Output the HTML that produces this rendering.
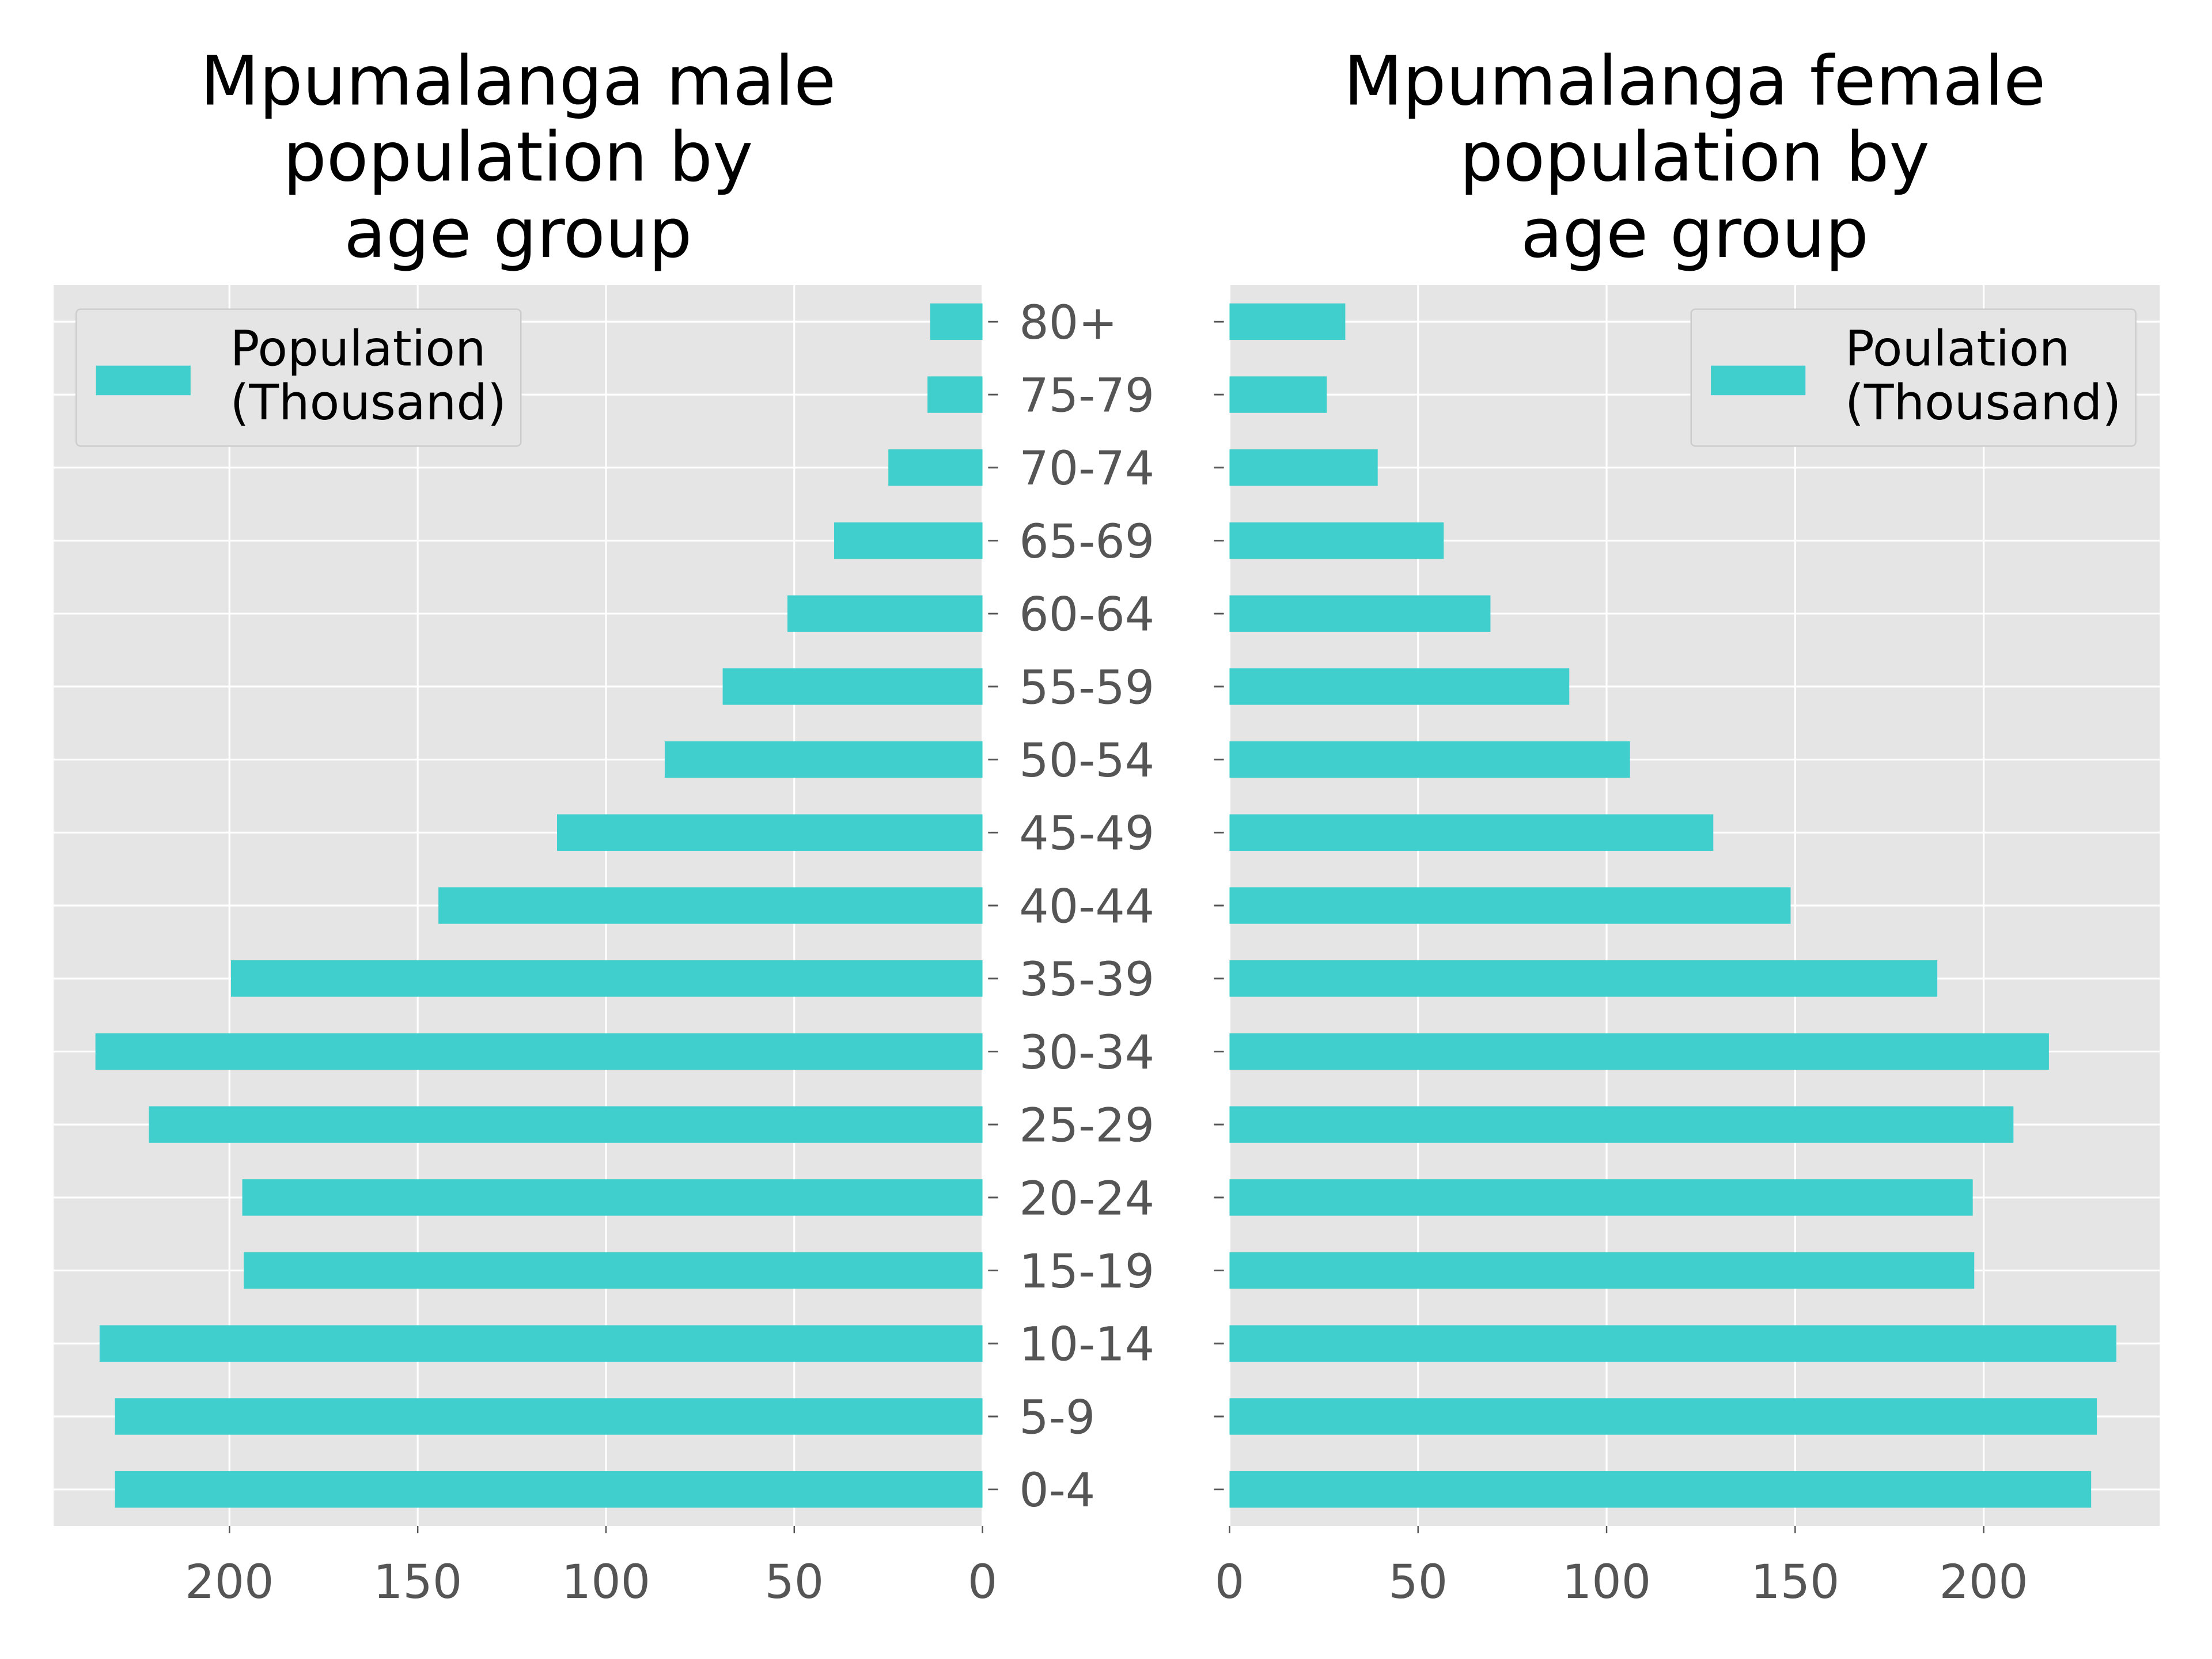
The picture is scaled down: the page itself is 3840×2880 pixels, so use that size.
<!DOCTYPE html>
<html><head><meta charset="utf-8"><style>
html,body{margin:0;padding:0;background:#fff;}
svg{display:block;font-family:"DejaVu Sans","Liberation Sans",sans-serif;}
</style></head><body>
<svg id="chart" width="3840" height="2880" viewBox="0 0 1567 1175.25" xmlns="http://www.w3.org/2000/svg">
<rect width="1567" height="1176" fill="#fff"/>
<g id="left"></g>
<g id="right"></g>
</svg>
<script>
const categories = ["0-4","5-9","10-14","15-19","20-24","25-29","30-34","35-39","40-44","45-49","50-54","55-59","60-64","65-69","70-74","75-79","80+"];
const maleValues = [230.4,230.4,234.5,196.2,196.6,221.4,235.6,199.6,144.5,113,84.4,69,51.8,39.4,25,14.6,13.9];
const femaleValues = [228.5,230,235.2,197.5,197.1,207.9,217.3,187.7,148.8,128.3,106.2,90.1,69.2,56.8,39.3,25.8,30.7];
const xTicks = [0,50,100,150,200];
const xMax = 246.7;

const NS = "http://www.w3.org/2000/svg";
function mk(parent, tag, attrs, text){
  const e = document.createElementNS(NS, tag);
  for (const k in attrs) e.setAttribute(k, attrs[k]);
  if (text !== undefined) e.textContent = text;
  parent.appendChild(e);
  return e;
}
const plotTop = 202, plotBottom = 1081;
const nCat = categories.length;
const band = (plotBottom - plotTop) / nCat;
function yc(i){ return plotBottom - band * (i + 0.5); }

function panel(g, x0, x1, values, reversed, titleLines, legendText, legendX, showLabels, name){
  const w = x1 - x0;
  const sx = v => reversed ? x1 - v / xMax * w : x0 + v / xMax * w;
  const bg = mk(g, "rect", {x:x0, y:plotTop, width:w, height:plotBottom-plotTop, fill:"#e5e5e5"});
  
  
  xTicks.forEach(t => {
    const gl = mk(g, "line", {x1:sx(t), x2:sx(t), y1:plotTop, y2:plotBottom, stroke:"#fff", "stroke-width":1.3});
    
    
    const tm = mk(g, "line", {x1:sx(t), x2:sx(t), y1:plotBottom, y2:plotBottom+5, stroke:"#555", "stroke-width":1});
    
    
    const tl = mk(g, "text", {x:sx(t), y:plotBottom+51, "font-size":33, fill:"#555", "text-anchor":"middle"}, String(t));
    
    
  });
  categories.forEach((c, i) => {
    const gl = mk(g, "line", {x1:x0, x2:x1, y1:yc(i), y2:yc(i), stroke:"#fff", "stroke-width":1.3});
    
    
  });
  values.forEach((v, i) => {
    const a = sx(0), b = sx(v);
    const r = mk(g, "rect", {x:Math.min(a,b), y:yc(i)-band/4, width:Math.abs(b-a), height:band/2, fill:"#40cfcd"});
    
    
  });
  categories.forEach((c, i) => {
    const tx = reversed ? x1 : x0;
    const tm = mk(g, "line", {x1:reversed ? tx+4 : tx-11, x2:reversed ? tx+11 : tx-4, y1:yc(i), y2:yc(i), stroke:"#555", "stroke-width":1.2});
    
    
    if (showLabels){
      const tl = mk(g, "text", {x:tx+26, y:yc(i)+12, "font-size":33, fill:"#555"}, c);
      
      
    }
  });
  const cx = (x0 + x1) / 2;
  titleLines.forEach((t, k) => {
    const tt = mk(g, "text", {x:cx, y:74 + k*54, "font-size":48.5, fill:"#000", "text-anchor":"middle"}, t);
    
    
  });
  const lg = mk(g, "g", {});
  
  
  mk(lg, "rect", {x:legendX, y:219, width:315, height:97, rx:3, fill:"#e5e5e5", stroke:"#ccc", "stroke-width":1});
  const p = mk(lg, "rect", {x:legendX+14, y:259, width:67, height:21, fill:"#40cfcd"});
  
  
  const l1 = mk(lg, "text", {x:legendX+109, y:259, "font-size":34.5, fill:"#000"}, legendText);
  
  
  const l2 = mk(lg, "text", {x:legendX+109, y:297, "font-size":34.5, fill:"#000"}, "(Thousand)");
  
  
}
panel(document.getElementById("left"), 38, 696, maleValues, true, ["Mpumalanga male","population by","age group"], "Population", 54, true, "male");
panel(document.getElementById("right"), 871, 1530, femaleValues, false, ["Mpumalanga female","population by","age group"], "Poulation", 1198, false, "female");
</script>
</body></html>
